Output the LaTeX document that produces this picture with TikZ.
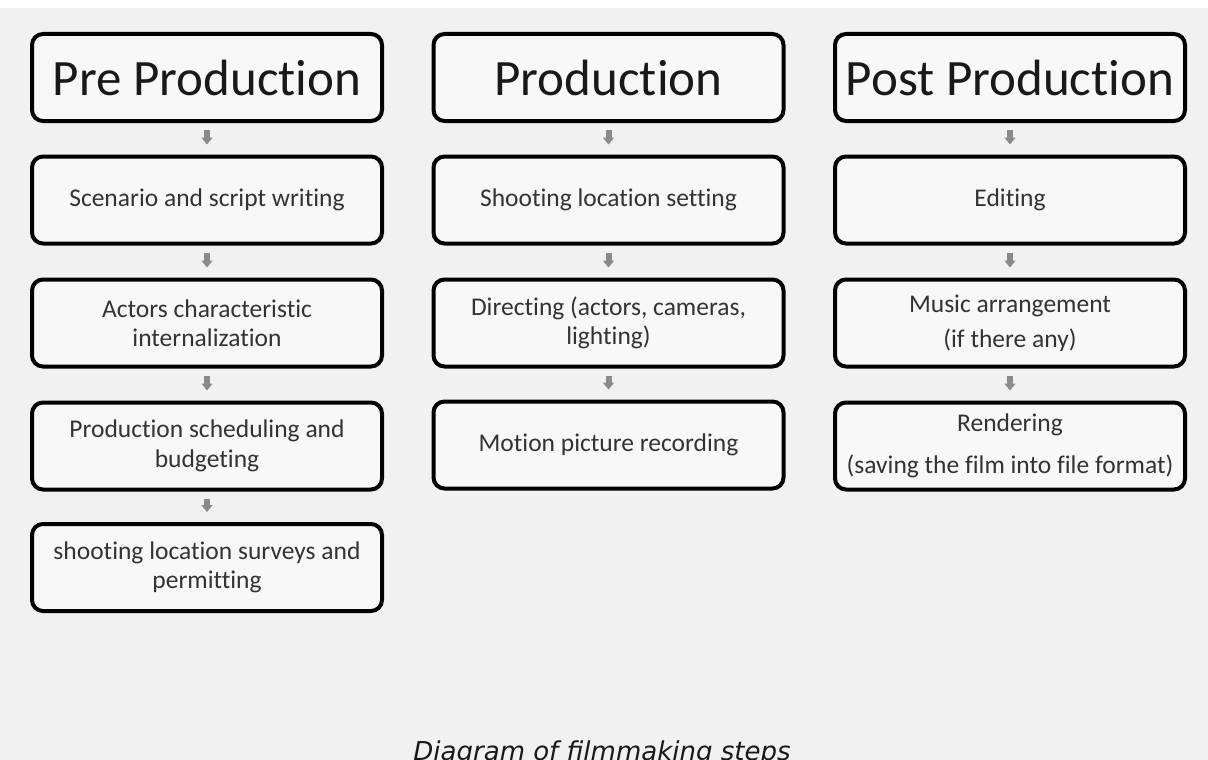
\documentclass[tikz,border=0pt]{standalone}
\usepackage{fontspec}
\setmainfont[Ligatures=NoCommon]{Carlito}
\newfontfamily\capfont{DejaVu Sans}
\usetikzlibrary{arrows.meta}
\definecolor{bg}{HTML}{F1F1F1}
\definecolor{boxfill}{HTML}{F8F8F8}
\definecolor{arrowgray}{HTML}{8A8A8A}
\definecolor{bodytext}{HTML}{333333}
\tikzset{
  phase/.style={draw=black, line width=4pt, rounded corners=11pt, fill=boxfill,
    minimum width=350pt, minimum height=87pt, inner sep=0pt,
    font=\fontsize{51}{58}\selectfont, text=black!90},
  stepbox/.style={draw=black, line width=4pt, rounded corners=11pt, fill=boxfill,
    minimum width=350pt, minimum height=87pt, inner sep=0pt, align=center,
    font=\fontsize{25.5}{29.5}\selectfont, text=bodytext},
  flow/.style={draw=arrowgray, line width=6pt, shorten <=7pt, shorten >=10pt,
    -{Triangle[width=11pt,length=7pt]}, arrowgray},
}
\begin{document}
\begin{tikzpicture}[x=1pt,y=-1pt]
  \useasboundingbox (0,0) rectangle (1208,760);
  \fill[bg] (0,0) rectangle (1208,760);
  \fill[white] (0,0) rectangle (1208,8);

  % Pre production column
  \node[phase]   (pre)  at (207,77.5) {Pre Production};
  \node[stepbox] (pre1) at (207,200) {Scenario and script writing};
  \node[stepbox] (pre2) at (207,323) {Actors characteristic\\internalization};
  \node[stepbox] (pre3) at (207,446) {Production scheduling and\\budgeting};
  \node[stepbox] (pre4) at (207,567.5) {shooting location surveys and\\permitting};

  % Production column
  \node[phase]   (pro)  at (608.5,77.5) {Production};
  \node[stepbox] (pro1) at (608.5,200) {Shooting location setting};
  \node[stepbox] (pro2) at (608.5,323) {Directing (actors, cameras,\\lighting)};
  \node[stepbox] (pro3) at (608.5,445) {Motion picture recording};

  % Post production column
  \node[phase]   (post)  at (1010,77.5) {Post Production};
  \node[stepbox] (post1) at (1010,200) {Editing};
  \node[stepbox] (post2) at (1010,323) {Music arrangement\\[5.5pt](if there any)};
  \node[stepbox] (post3) at (1010,446) {Rendering\\[12.5pt](saving the film into file format)};

  % Flow arrows
  \draw[flow] (pre.south)  -- (pre1.north);
  \draw[flow] (pre1.south) -- (pre2.north);
  \draw[flow] (pre2.south) -- (pre3.north);
  \draw[flow] (pre3.south) -- (pre4.north);
  \draw[flow] (pro.south)  -- (pro1.north);
  \draw[flow] (pro1.south) -- (pro2.north);
  \draw[flow] (pro2.south) -- (pro3.north);
  \draw[flow] (post.south)  -- (post1.north);
  \draw[flow] (post1.south) -- (post2.north);
  \draw[flow] (post2.south) -- (post3.north);

  % Caption, set on the lower edge of the page
  \node[anchor=base, inner sep=0pt, font=\capfont\itshape\fontsize{26}{30}\selectfont, text=black!90]
    (cap) at (602,760) {Diagram of filmmaking steps};
\end{tikzpicture}
\end{document}
